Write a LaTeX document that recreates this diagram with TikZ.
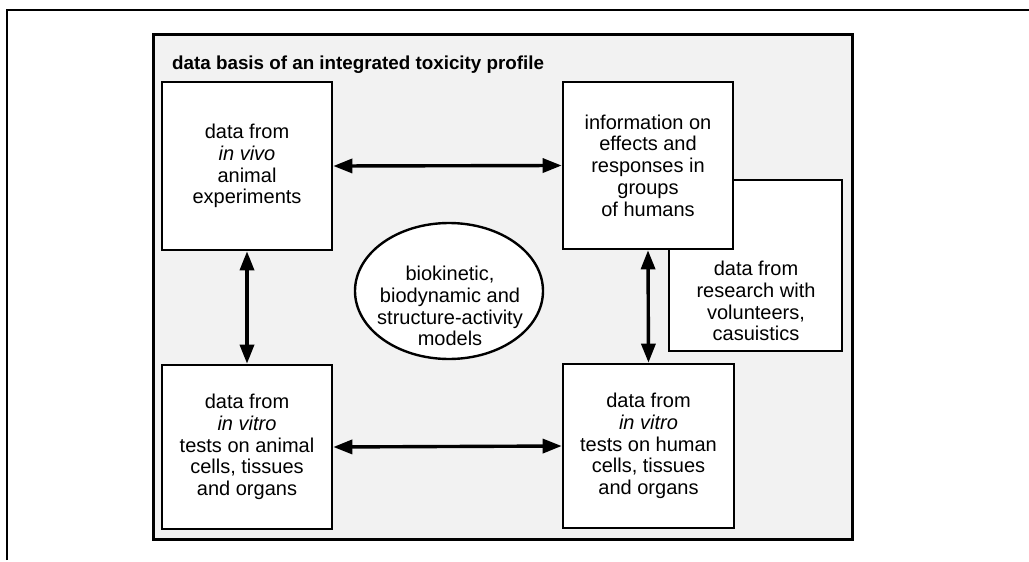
\documentclass[tikz,border=0pt]{standalone}
\usepackage{fontspec}
\setmainfont{Liberation Sans}
\usetikzlibrary{arrows.meta}
\begin{document}
\begin{tikzpicture}[x=1pt,y=-1pt,
  frame/.style={draw,line width=3pt,fill=black!5,minimum width=699pt,minimum height=505pt,inner sep=0pt},
  databox/.style={draw,line width=2.6pt,fill=white,inner sep=0pt,align=center,
     font=\fontsize{20}{21.7}\selectfont},
  txt/.style={inner sep=0pt,align=center,font=\fontsize{20}{21.7}\selectfont},
  biarrow/.style={line width=3.4pt,{Triangle[length=19pt,width=14pt]}-{Triangle[length=19pt,width=14pt]}}
]
\useasboundingbox (0,0) rectangle (1029,562);
% outer page frame
\coordinate (ptl) at (7,10);
\coordinate (ptr) at (1029,10);
\coordinate (pbl) at (7,560);
\draw[line width=2pt] (pbl) -- (ptl) -- (ptr);
% inner frame
\node[frame] (frame) at (502.5,286.5) {};
\node[anchor=base west,inner sep=0pt,font=\fontsize{18.8}{22}\selectfont\bfseries] (title) at (172,69) {data basis of an integrated toxicity profile};
% volunteers box (behind)
\node[databox,minimum width=173pt,minimum height=171pt] (vol) at (755.5,265.5) {};
\node[txt] (voltext) at (756,301) {data from\\research with\\volunteers,\\casuistics};
% boxes
\node[databox,minimum width=170pt,minimum height=168pt] (b1) at (247,166) {data from\\\textit{in vivo}\\animal\\experiments};
\node[databox,minimum width=170pt,minimum height=167pt] (b2) at (648,165.5) {information on\\effects and\\responses in\\groups\\of humans};
\node[databox,minimum width=170pt,minimum height=164pt] (b3) at (247,447) {data from\\\textit{in vitro}\\tests on animal\\cells, tissues\\and organs};
\node[databox,minimum width=171pt,minimum height=164pt] (b4) at (648.5,446) {data from\\\textit{in vitro}\\tests on human\\cells, tissues\\and organs};
% ellipse
\draw[line width=2.4pt,fill=white] (449,291) ellipse [x radius=94pt,y radius=68pt];
\node[txt] (models) at (450,306) {biokinetic,\\biodynamic and\\structure-activity\\models};
% arrows
\draw[biarrow] (b1.east) -- (b2.west);
\draw[biarrow] (b3.east) -- (b4.west);
\draw[biarrow] (b1.south) -- (b3.north);
\draw[biarrow] (b2.south) -- (b4.north);
\end{tikzpicture}
\end{document}
